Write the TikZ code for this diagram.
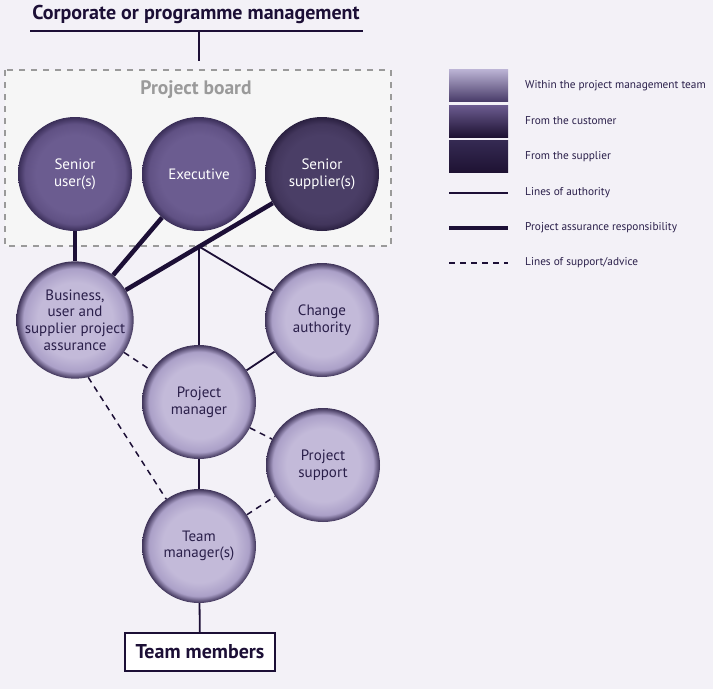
\documentclass[tikz,border=0pt]{standalone}
\usepackage{fontspec}
\setmainfont{PT Sans}
\definecolor{bg}{HTML}{F3F1F7}
\definecolor{boardfill}{HTML}{F6F6F6}
\definecolor{boardline}{HTML}{9A9A9A}
\definecolor{ink}{HTML}{1C0F36}
\definecolor{txt}{HTML}{2A1F4A}
\definecolor{teamin}{HTML}{C3BAD9}
\definecolor{teammid}{HTML}{ABA0C8}
\definecolor{teamout}{HTML}{3E3358}
\definecolor{custin}{HTML}{6B5C90}
\definecolor{custmid}{HTML}{605184}
\definecolor{custout}{HTML}{3A2E58}
\definecolor{suppin}{HTML}{4A3E66}
\definecolor{suppmid}{HTML}{42365C}
\definecolor{suppout}{HTML}{2A2040}
\definecolor{legtop1}{HTML}{BDB5D6}
\definecolor{legbot1}{HTML}{4A3D6A}
\definecolor{legtop2}{HTML}{6C5C90}
\definecolor{legbot2}{HTML}{1E1233}
\definecolor{legtop3}{HTML}{352A52}
\definecolor{legbot3}{HTML}{1E1233}
\pgfdeclareradialshading{teamshade}{\pgfpoint{0bp}{0bp}}{color(0bp)=(teamin);color(16bp)=(teamin);color(22bp)=(teammid);color(25bp)=(teamout);color(50bp)=(teamout)}
\pgfdeclareradialshading{custshade}{\pgfpoint{0bp}{0bp}}{color(0bp)=(custin);color(17bp)=(custin);color(22bp)=(custmid);color(25bp)=(custout);color(50bp)=(custout)}
\pgfdeclareradialshading{suppshade}{\pgfpoint{0bp}{0bp}}{color(0bp)=(suppin);color(17bp)=(suppin);color(22bp)=(suppmid);color(25bp)=(suppout);color(50bp)=(suppout)}
\tikzset{
  ball/.style={circle, minimum size=114pt, inner sep=0pt, align=center, font=\fontsize{15}{16.7}\selectfont},
  team/.style={ball, shading=teamshade, text=txt},
  cust/.style={ball, shading=custshade, text=white},
  supp/.style={ball, shading=suppshade, text=white},
  auth/.style={draw=ink, line width=1.8pt},
  assure/.style={draw=ink, line width=4.5pt},
  support/.style={draw=ink, line width=1.5pt, dash pattern=on 6pt off 5pt},
  legtext/.style={anchor=west, text=txt, font=\fontsize{11.3}{13}\selectfont, inner sep=0pt},
  legbox/.style={minimum width=59pt, minimum height=32pt, inner sep=0pt},
}
\begin{document}
\begin{tikzpicture}[x=1pt,y=-1pt]
\fill[bg] (0,0) rectangle (713,689);
\useasboundingbox (0,0) rectangle (713,689);
% title
\node[text=ink, font=\fontsize{20}{23}\selectfont\bfseries] (corp) at (196,14.5) {Corporate or programme management};
\coordinate (ul) at (30,31);
\coordinate (ur) at (363,31);
\coordinate (utop) at (199,31);
\coordinate (ubot) at (199,61);
\draw[auth] (ul) -- (ur);
\draw[auth] (utop) -- (ubot);
% board
\draw[fill=boardfill, draw=boardline, line width=1.5pt, dash pattern=on 6pt off 6pt] (5,70) rectangle (391,246);
\node[text=boardline, font=\fontsize{19.5}{22}\selectfont\bfseries] (boardlbl) at (196,90) {Project board};
\coordinate (j) at (199,246.5);
% circles
\node[cust] (su) at (75,174) {Senior\\user(s)};
\node[cust] (ex) at (199,174) {Executive};
\node[supp] (ss) at (322,174) {Senior\\supplier(s)};
\node[team] (pa) at (75,320) {Business,\\user and\\supplier project\\assurance};
\node[team] (ca) at (322,320) {Change\\authority};
\node[team] (pm) at (199,402) {Project\\manager};
\node[team] (ps) at (323,465) {Project\\support};
\node[team] (tm) at (199,546) {Team\\manager(s)};
\node[draw=ink, fill=white, line width=1.2pt, minimum width=150pt, minimum height=38pt, text=ink, font=\fontsize{20}{23}\selectfont\bfseries] (tmem) at (200,652) {Team members};
% connectors
\draw[assure] (su) -- (pa);
\draw[assure] (ex) -- (pa);
\draw[assure] (ss) -- (pa);
\draw[auth] (j) -- (pm);
\draw[auth] (j) -- (ca);
\draw[auth] (pm) -- (ca);
\draw[auth] (pm) -- (tm);
\draw[auth] (tm) -- (tmem);
\draw[support] (pa) -- (pm);
\draw[support] (pa.-77) -- (tm.125);
\draw[support] (pm) -- (ps);
\draw[support] (tm) -- (ps);
% legend
\node[legbox, top color=legtop1, bottom color=legbot1] (lb1) at (478.5,85) {};
\node[legbox, top color=legtop2, bottom color=legbot2] (lb2) at (478.5,121) {};
\node[legbox, top color=legtop3, bottom color=legbot3] (lb3) at (478.5,156.5) {};
\coordinate (la1) at (449,193); \coordinate (la2) at (508,193);
\coordinate (lp1) at (449,228); \coordinate (lp2) at (508,228);
\coordinate (ls1) at (449,263); \coordinate (ls2) at (508,263);
\draw[auth] (la1) -- (la2);
\draw[assure] (lp1) -- (lp2);
\draw[support] (ls1) -- (ls2);
\node[legtext] (lt1) at (525,86) {Within the project management team};
\node[legtext] (lt2) at (525,121) {From the customer};
\node[legtext] (lt3) at (525,157) {From the supplier};
\node[legtext] (lt4) at (525,193) {Lines of authority};
\node[legtext] (lt5) at (525,228) {Project assurance responsibility};
\node[legtext] (lt6) at (525,263) {Lines of support/advice};
\end{tikzpicture}
\end{document}
